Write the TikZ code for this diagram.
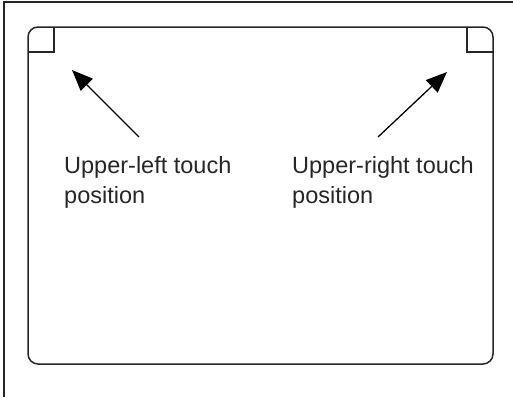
\documentclass[tikz,border=0pt]{standalone}
\usepackage{fontspec}
\setmainfont{Liberation Sans}
\usetikzlibrary{arrows.meta, positioning}

\begin{document}
\begin{tikzpicture}[
        x=1pt, y=-1pt,
        frame/.style={line width=1.5pt, draw=black!85},
        screen/.style={line width=1.5pt, draw=black!85, rounded corners=10pt},
        label/.style={inner sep=0pt, align=left, font=\fontsize{23.5}{30}\selectfont, text=black!85, anchor=base west},
        arrow/.style={-{Triangle[length=21pt, width=17pt]}, line width=1.3pt}
    ]
        \useasboundingbox (0,0) rectangle (513,397);
        \draw[frame] (4,397) -- (4,2) -- (513,2);
        \draw[screen] (28,27) rectangle (493,364);
        \draw[frame] (54,27) -- (54,52) -- (28,52);
        \draw[frame] (467,27) -- (467,52) -- (493,52);

        % base anchor sits on the last line
        \node[label] (ul) at (64,203) {Upper-left touch\\position};
        \node[label] (ur) at (292,203) {Upper-right touch\\position};

        \coordinate (ultail) at (139,137);
        \coordinate (ultip) at (72,70);
        \coordinate (urtail) at (378,137);
        \coordinate (urtip) at (447,72);
        \draw[arrow] (ultail) -- (ultip);
        \draw[arrow] (urtail) -- (urtip);
    \end{tikzpicture}
\end{document}
